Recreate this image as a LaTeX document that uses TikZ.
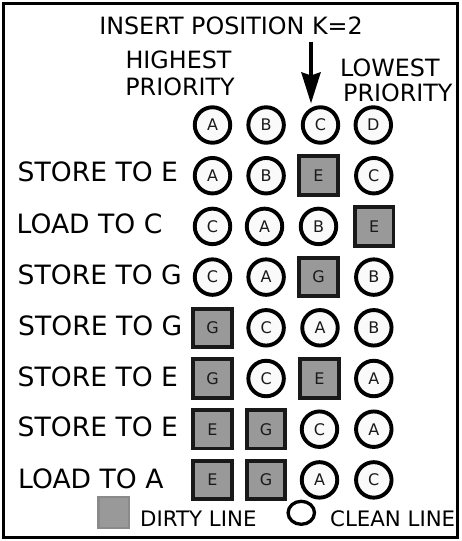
\documentclass[tikz,border=0pt]{standalone}
\usepackage{fontspec}
\setmainfont{DejaVu Sans}
\usetikzlibrary{arrows.meta}
\definecolor{dirtyfill}{HTML}{999999}
\definecolor{cleanfill}{HTML}{FAFAFA}
\definecolor{legendedge}{HTML}{8A8A8A}
\definecolor{inktext}{HTML}{1A1A1A}
\tikzset{
  clean/.style={circle, draw=black, line width=3.9pt, fill=cleanfill, minimum size=35.5pt,
    inner sep=0pt, text=inktext, font=\fontsize{16}{18}\selectfont},
  dirty/.style={rectangle, draw=black!90, line width=3.9pt, fill=dirtyfill, minimum size=38.5pt,
    inner sep=0pt, text=inktext, font=\fontsize{16}{18}\selectfont},
  rowlbl/.style={anchor=base west, inner sep=0pt, font=\fontsize{26.6}{30}\selectfont},
  hdr/.style={inner sep=0pt, font=\fontsize{23.8}{27}\selectfont},
  legtext/.style={anchor=base west, inner sep=0pt, font=\fontsize{21.3}{24}\selectfont},
}
\begin{document}
\begin{tikzpicture}[x=1pt,y=-1pt]
\useasboundingbox (0,0) rectangle (461,541);
\draw[line width=3.2pt] (3.5,3.5) rectangle (457.5,537.5);

% header texts
\node[hdr, anchor=base] (ins) at (231,34.3) {INSERT POSITION K=2};
\node[hdr, anchor=base] (hi1) at (178.5,68.3) {HIGHEST};
\node[hdr, anchor=base] (hi2) at (180,95) {PRIORITY};
\node[hdr, anchor=base west] (lo1) at (340,76.7) {LOWEST};
\node[hdr, anchor=base west] (lo2) at (343,101) {PRIORITY};

% arrow
\coordinate (arrtop) at (311,41.5);
\coordinate (arrtip) at (311,103.5);
\draw[line width=4pt, -{Stealth[length=31pt,width=19pt,inset=3pt]}] (arrtop) -- (arrtip);

% header row
\node[clean] (h1) at (212.5,125) {A};
\node[clean] (h2) at (266.1,125) {B};
\node[clean] (h3) at (320.5,125) {C};
\node[clean] (h4) at (373.3,125) {D};

% row 1
\node[rowlbl] (l1) at (17.5,181.5) {STORE TO E};
\node[clean] (a1) at (212.5,175.7) {A};
\node[clean] (b1) at (266.1,175.7) {B};
\node[dirty] (c1) at (318.5,175.5) {E};
\node[clean] (d1) at (373.8,175.7) {C};

% row 2
\node[rowlbl] (l2) at (16.5,233.4) {LOAD TO C};
\node[clean] (a2) at (212.5,226.4) {C};
\node[clean] (b2) at (264.5,226.4) {A};
\node[clean] (c2) at (318.5,226.4) {B};
\node[dirty] (d2) at (374.2,226.4) {E};

% row 3
\node[rowlbl] (l3) at (17.5,284.1) {STORE TO G};
\node[clean] (a3) at (212.5,277.1) {C};
\node[clean] (b3) at (266.1,277.1) {A};
\node[dirty] (c3) at (318.5,277.1) {G};
\node[clean] (d3) at (373.8,277.1) {B};

% row 4
\node[rowlbl] (l4) at (18,335) {STORE TO G};
\node[dirty] (a4) at (212.5,327.8) {G};
\node[clean] (b4) at (266.1,327.8) {C};
\node[clean] (c4) at (320,327.8) {A};
\node[clean] (d4) at (373.8,327.8) {B};

% row 5
\node[rowlbl] (l5) at (17.5,386) {STORE TO E};
\node[dirty] (a5) at (212.5,378.5) {G};
\node[clean] (b5) at (266.1,378.5) {C};
\node[dirty] (c5) at (319.5,378.5) {E};
\node[clean] (d5) at (373.8,378.5) {A};

% row 6
\node[rowlbl] (l6) at (17.5,436.5) {STORE TO E};
\node[dirty] (a6) at (212.5,429.2) {E};
\node[dirty] (b6) at (266.1,429.2) {G};
\node[clean] (c6) at (319.5,429.2) {C};
\node[clean] (d6) at (373.8,429.2) {A};

% row 7
\node[rowlbl] (l7) at (18,488.3) {LOAD TO A};
\node[dirty] (a7) at (212.5,479.9) {E};
\node[dirty] (b7) at (266.1,479.9) {G};
\node[clean] (c7) at (319.5,479.9) {A};
\node[clean] (d7) at (373.8,479.9) {C};

% legend
\node[rectangle, draw=legendedge, line width=2.2pt, fill=dirtyfill, minimum size=30.5pt, inner sep=0pt] (legd) at (113.7,512.5) {};
\node[legtext] (legdt) at (140,526.7) {DIRTY LINE};
\draw[line width=3.3pt] (301.3,512.8) ellipse [x radius=13.2pt, y radius=11.5pt];
\node[legtext] (legct) at (330,526.7) {CLEAN LINE};
\end{tikzpicture}
\end{document}
